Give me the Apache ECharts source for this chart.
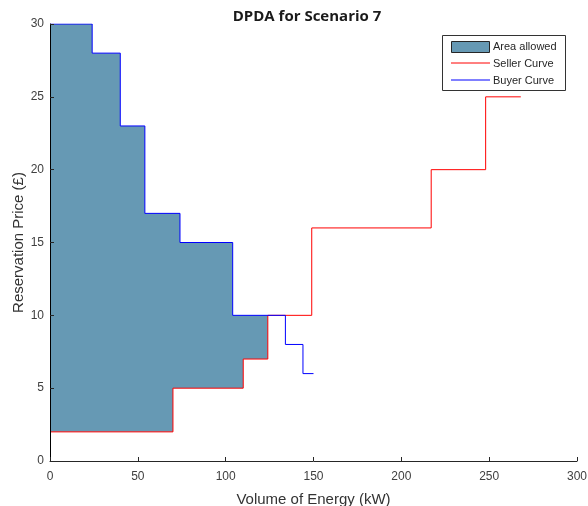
<!DOCTYPE html>
<html>
<head>
<meta charset="utf-8">
<script src="https://cdn.jsdelivr.net/npm/echarts@6/dist/echarts.min.js"></script>
<style>
  html, body { margin: 0; padding: 0; background: #fff; }
  #chart { width: 588px; height: 506px; }
</style>
</head>
<body>
<div id="chart"></div>
<script>
// Buyer bids: quantity breakpoints (kW) and the price held over each step (£)
const buyerQty   = [0, 24, 40, 54, 74, 104, 134, 144, 150];
const buyerPrice = [30, 28, 23, 17, 15, 10, 8, 6];

// Seller offers: quantity breakpoints (kW) and the price held over each step (£)
const sellerQty   = [0, 70, 110, 124, 149, 217, 248, 268];
const sellerPrice = [2, 5, 7, 10, 16, 20, 25];

const xTicks = [0, 50, 100, 150, 200, 250, 300];
const yTicks = [0, 5, 10, 15, 20, 25, 30];

const legendNames = ['Area allowed', 'Seller Curve', 'Buyer Curve'];

// Turn a breakpoint list and step levels into the corner points of a staircase
function stairs(qty, price) {
  const pts = [];
  for (let i = 0; i < price.length; i++) {
    pts.push([qty[i], price[i]]);
    pts.push([qty[i + 1], price[i]]);
  }
  return pts;
}

// Price on a staircase at quantity q (step level to the left of q)
function priceAt(qty, price, q) {
  for (let i = 0; i < price.length; i++) {
    if (q >= qty[i] && q < qty[i + 1]) return price[i];
  }
  return price[price.length - 1];
}

// First seller breakpoint where the offer reaches the bid: end of the allowed region
let clearQty = sellerQty[sellerQty.length - 1];
for (let j = 0; j < sellerPrice.length; j++) {
  const q = sellerQty[j];
  if (sellerPrice[j] >= priceAt(buyerQty, buyerPrice, q)) { clearQty = q; break; }
}

// Staircase clipped to [0, qEnd]
function stairsUpTo(qty, price, qEnd) {
  const pts = [];
  for (let i = 0; i < price.length; i++) {
    if (qty[i] >= qEnd) break;
    pts.push([qty[i], price[i]]);
    pts.push([Math.min(qty[i + 1], qEnd), price[i]]);
  }
  return pts;
}

const upper = stairsUpTo(buyerQty, buyerPrice, clearQty);
const lower = stairsUpTo(sellerQty, sellerPrice, clearQty);
const regionPts = upper.concat(lower.slice().reverse());

const chart = echarts.init(document.getElementById('chart'), null, { renderer: 'canvas' });

const textColor = '#262626';
const axisColor = '#262626';
const areaColor = '#6699b4';
const sellerColor = '#ff0000';
const buyerColor = '#0000ff';

// Boxed key in the upper right corner
const keyFont = { fontFamily: 'Liberation Sans', fontSize: 11, fill: textColor, verticalAlign: 'middle' };
const keyBox = {
  type: 'group',
  left: 442,
  top: 35,
  children: [
    { type: 'rect', shape: { x: 0.5, y: 0.5, width: 123, height: 55 },
      style: { fill: '#ffffff', stroke: '#333333', lineWidth: 1 } },
    { type: 'rect', shape: { x: 9.5, y: 6.5, width: 38, height: 11 },
      style: { fill: areaColor, stroke: '#262626', lineWidth: 1 } },
    { type: 'line', shape: { x1: 9, y1: 28, x2: 48, y2: 28 },
      style: { stroke: sellerColor, lineWidth: 1 } },
    { type: 'line', shape: { x1: 9, y1: 45, x2: 48, y2: 45 },
      style: { stroke: buyerColor, lineWidth: 1 } },
    { type: 'text', x: 51, y: 12, style: Object.assign({ text: legendNames[0] }, keyFont) },
    { type: 'text', x: 51, y: 28.5, style: Object.assign({ text: legendNames[1] }, keyFont) },
    { type: 'text', x: 51, y: 45.5, style: Object.assign({ text: legendNames[2] }, keyFont) }
  ]
};

chart.setOption({
  animation: false,
  backgroundColor: '#ffffff',
  title: {
    text: 'DPDA for Scenario 7',
    left: 302,
    top: 4,
    textAlign: 'center',
    textStyle: { fontFamily: 'Open Sans', fontWeight: 'bold', fontSize: 15, color: '#1a1a1a' }
  },
  grid: { left: 50, top: 24, width: 527, height: 437, containLabel: false, outerBoundsMode: 'none' },
  graphic: [keyBox],
  xAxis: {
    type: 'value',
    min: 0, max: 300, interval: 50,
    name: 'Volume of Energy (kW)',
    nameLocation: 'middle',
    nameGap: 31,
    nameMoveOverlap: false,
    nameTextStyle: { fontFamily: 'Liberation Sans', fontSize: 15, color: '#333333' },
    axisLine: { show: true, lineStyle: { color: axisColor, width: 1 } },
    axisTick: { show: true, inside: true, length: 4, lineStyle: { color: axisColor } },
    axisLabel: { fontFamily: 'Liberation Sans', fontSize: 12, color: '#404040', margin: 10,
      formatter: v => xTicks.includes(v) ? String(v) : '' },
    splitLine: { show: false },
    z: 10
  },
  yAxis: {
    type: 'value',
    min: 0, max: 30, interval: 5,
    name: 'Reservation Price (£)',
    nameLocation: 'middle',
    nameGap: 24,
    nameMoveOverlap: false,
    nameRotate: 90,
    nameTextStyle: { fontFamily: 'Liberation Sans', fontSize: 15, color: '#333333' },
    axisLine: { show: true, lineStyle: { color: '#000000', width: 1 } },
    axisTick: { show: true, inside: true, length: 4, lineStyle: { color: axisColor } },
    axisLabel: { fontFamily: 'Liberation Sans', fontSize: 12, color: '#404040', margin: 6,
      formatter: v => yTicks.includes(v) ? String(v) : '' },
    splitLine: { show: false },
    z: 10
  },
  series: [
    {
      name: legendNames[0],
      type: 'custom',
      coordinateSystem: 'cartesian2d',
      data: [[0, 0]],
      itemStyle: { color: areaColor },
      renderItem: function (params, api) {
        const pts = regionPts.map(p => api.coord(p));
        return {
          type: 'polygon',
          shape: { points: pts },
          style: { fill: areaColor, stroke: null }
        };
      },
      z: 1
    },
    {
      name: legendNames[1],
      type: 'line',
      data: stairs(sellerQty, sellerPrice),
      symbol: 'none',
      itemStyle: { color: sellerColor },
      lineStyle: { color: sellerColor, width: 1 },
      z: 3
    },
    {
      name: legendNames[2],
      type: 'line',
      data: stairs(buyerQty, buyerPrice),
      symbol: 'none',
      itemStyle: { color: buyerColor },
      lineStyle: { color: buyerColor, width: 1 },
      z: 4
    }
  ]
});
</script>
</body>
</html>
